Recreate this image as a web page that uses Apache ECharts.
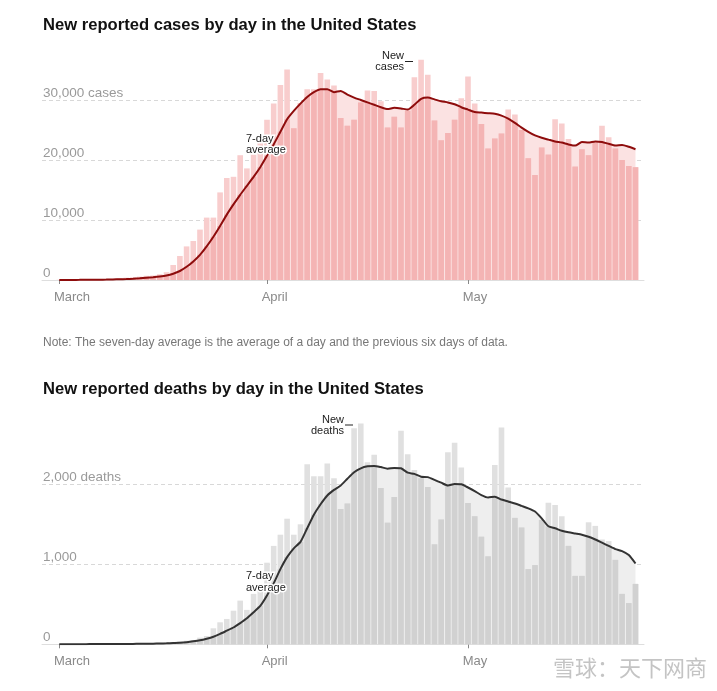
<!DOCTYPE html>
<html>
<head>
<meta charset="utf-8">
<script src="https://cdn.jsdelivr.net/npm/echarts@6/dist/echarts.min.js"></script>
<style>
html,body{margin:0;padding:0;background:#fff;}
#chart{width:717px;height:691px;}
</style>
</head>
<body>
<div id="chart"></div>
<script>
const dates = [
"3/1","3/2","3/3","3/4","3/5","3/6","3/7","3/8","3/9","3/10","3/11","3/12","3/13","3/14","3/15","3/16",
"3/17","3/18","3/19","3/20","3/21","3/22","3/23","3/24","3/25","3/26","3/27","3/28","3/29","3/30","3/31",
"4/1","4/2","4/3","4/4","4/5","4/6","4/7","4/8","4/9","4/10","4/11","4/12","4/13","4/14","4/15",
"4/16","4/17","4/18","4/19","4/20","4/21","4/22","4/23","4/24","4/25","4/26","4/27","4/28","4/29","4/30",
"5/1","5/2","5/3","5/4","5/5","5/6","5/7","5/8","5/9","5/10","5/11","5/12","5/13","5/14","5/15",
"5/16","5/17","5/18","5/19","5/20","5/21","5/22","5/23","5/24","5/25","5/26"];
const monthNames = {"3":"March","4":"April","5":"May"};

const cases = [
20,15,25,30,60,70,110,120,170,280,
380,450,560,700,750,950,1300,2500,4000,5600,
6500,8400,10400,10400,14600,17000,17200,20800,18600,20900,
23400,26700,29400,32500,35100,25300,29500,31800,31800,34500,
33400,32400,27000,25700,26700,29600,31600,31500,29800,25400,
27200,25400,28200,33800,36700,34200,26600,23300,24500,26700,
30300,33900,29400,26000,21900,23600,24400,28400,27600,25000,
20300,17500,22100,20900,26800,26100,23500,18900,21800,20800,
22900,25700,23800,21900,20000,19000,18800];

const casesAvg = [
15,18,20,22,30,40,55,70,90,120,
160,210,280,370,460,580,750,1050,1500,2200,
3100,4200,5600,7200,9000,10900,12600,14200,15700,17200,
18800,20700,22600,24700,26800,28200,29400,30500,31300,31800,
31800,31300,31500,30900,30400,30000,29600,29200,28800,28500,
28700,28600,28400,29200,30200,30400,30100,29800,29600,29300,
28800,28400,28000,27900,27800,27700,27400,26900,26200,25400,
24700,24100,23700,23400,23100,22900,22600,22400,23000,22900,
23100,23000,22700,22400,22500,22200,21800];

const deaths = [
1,5,1,2,3,2,3,2,4,5,
6,8,10,12,12,18,23,28,35,45,
54,83,104,200,275,317,420,546,430,630,
720,1020,1230,1370,1570,1370,1500,2250,2100,2100,
2260,2075,1690,1760,2700,2760,2275,2370,1955,1520,
1840,2670,2375,2180,2075,1965,1250,1560,2400,2520,
2210,1765,1600,1345,1100,2240,2710,1960,1580,1460,
940,990,1555,1770,1740,1600,1230,855,855,1525,
1480,1310,1290,1055,630,515,755];

const deathsAvg = [
1,2,2,2,2,3,3,3,3,4,
4,5,6,7,8,10,12,16,20,27,
37,50,70,95,130,170,210,265,325,400,
480,610,762,940,1090,1200,1280,1450,1620,1750,
1860,1930,1985,2070,2150,2200,2225,2230,2215,2195,
2205,2200,2145,2130,2095,2090,2055,2020,1985,2005,
2000,1960,1915,1865,1835,1845,1810,1785,1760,1730,
1700,1660,1575,1475,1450,1420,1400,1385,1370,1345,
1310,1270,1230,1190,1165,1115,1010];

const casesTicks = [0,10000,20000,30000];
const casesTickLabels = ["0","10,000","20,000","30,000 cases"];
const deathsTicks = [0,1000,2000];
const deathsTickLabels = ["0","1,000","2,000 deaths"];

const FONT = '"Liberation Sans", Arial, sans-serif';
const monthStarts = [];
dates.forEach((d,i)=>{ if (d.split('/')[1]==='1') monthStarts.push(i); });
const LABEL_SHIFT = 0.8;

function monthLabel(v){
  let best = 0, bd = 1e9;
  monthStarts.forEach(m=>{ const dd=Math.abs(m - LABEL_SHIFT - v); if(dd<bd){bd=dd;best=m;} });
  return monthNames[dates[best].split('/')[0]];
}

const X_MIN = -2.58, X_MAX = 87.27;
function xAxis(gi){
  return {
    type:'value', gridIndex:gi, min:X_MIN, max:X_MAX,
    axisLine:{show:true, lineStyle:{color:'#dedede', width:1}},
    axisTick:{show:true, customValues:monthStarts, length:4, lineStyle:{color:'#888'}},
    axisLabel:{customValues:monthStarts.map(m=>m-LABEL_SHIFT), formatter:monthLabel,
      align:'left', color:'#8a8a8a', fontSize:13, fontFamily:FONT, margin:11},
    splitLine:{show:false}
  };
}
function yAxis(gi, max, ticks, labels){
  return {
    type:'value', gridIndex:gi, min:0, max:max,
    axisLine:{show:false},
    axisTick:{show:false, customValues:ticks},
    axisLabel:{inside:true, customValues:ticks,
      formatter:(v)=>labels[ticks.indexOf(v)] ?? '',
      color:'#9a9a9a', fontSize:13.5, fontFamily:FONT, align:'left', verticalAlign:'bottom',
      margin:1, padding:[0,0,0,0]},
    splitLine:{show:true, lineStyle:{type:[4,3], color:'#d8d8d8', width:1}}
  };
}

const idx = dates.map((d,i)=>i);
function seriesFor(gi, vals, avg, c){
  return [
    {type:'line', xAxisIndex:gi, yAxisIndex:gi, data:idx.map(i=>[i,avg[i]]), symbol:'none',
     lineStyle:{width:0}, areaStyle:{color:c.area, opacity:1}, z:1, silent:true},
    {type:'bar', xAxisIndex:gi, yAxisIndex:gi, barWidth:5.6, barGap:'-100%',
     data:idx.map(i=>[i,vals[i]]), itemStyle:{color:c.over}, z:2},
    {type:'bar', xAxisIndex:gi, yAxisIndex:gi, barWidth:5.6, barGap:'-100%',
     data:idx.map(i=>[i,Math.min(vals[i],avg[i])]), itemStyle:{color:c.bar}, z:3},
    {type:'line', xAxisIndex:gi, yAxisIndex:gi, data:idx.map(i=>[i,avg[i]]), symbol:'none', smooth:0.2,
     lineStyle:{width:2, color:c.line}, z:4, silent:true}
  ];
}

const chart = echarts.init(document.getElementById('chart'), null, {renderer:'canvas'});
const txt = (t, x, y, opts) => Object.assign({type:'text', x:x, y:y, silent:true, z:100,
  style:Object.assign({text:t, fill:'#222', font:'11px '+FONT, align:'left', verticalAlign:'middle'}, opts||{})});
const halo = {stroke:'#fff', lineWidth:3};

chart.setOption({
  animation:false,
  backgroundColor:'#fff',
  title:[
    {text:'New reported cases by day in the United States', left:43, top:17, padding:0,
     textStyle:{fontSize:16.6, fontWeight:'bold', color:'#121212', fontFamily:FONT}},
    {text:'New reported deaths by day in the United States', left:43, top:381, padding:0,
     textStyle:{fontSize:16.6, fontWeight:'bold', color:'#121212', fontFamily:FONT}}
  ],
  grid:[
    {left:42, right:73, top:40, bottom:411},
    {left:42, right:73, top:404.3, bottom:46.7}
  ],
  xAxis:[xAxis(0), xAxis(1)],
  yAxis:[yAxis(0,40000,casesTicks,casesTickLabels), yAxis(1,3000,deathsTicks,deathsTickLabels)],
  series:[].concat(
    seriesFor(0, cases, casesAvg, {area:'#fbe2e2', bar:'#f4b4b4', over:'#f8cdcd', line:'#8e0c0c'}),
    seriesFor(1, deaths, deathsAvg, {area:'#eeeeee', bar:'#d1d1d1', over:'#e0e0e0', line:'#333333'})
  ),
  graphic:[
    txt('Note: The seven-day average is the average of a day and the previous six days of data.', 43, 343,
        {fill:'#777', font:'12px '+FONT}),
    txt('New', 404, 55.5, {align:'right'}),
    txt('cases', 404, 66.5, {align:'right'}),
    {type:'line', silent:true, z:100, shape:{x1:405, y1:61.5, x2:413, y2:61.5}, style:{stroke:'#222', lineWidth:1}},
    txt('7-day', 246, 138.5, halo),
    txt('average', 246, 150, halo),
    txt('New', 344, 419.5, {align:'right'}),
    txt('deaths', 344, 430.5, {align:'right'}),
    {type:'line', silent:true, z:100, shape:{x1:345, y1:425, x2:353, y2:425}, style:{stroke:'#222', lineWidth:1}},
    txt('7-day', 246, 576, halo),
    txt('average', 246, 587.5, halo),
    txt('雪球：天下网商', 553, 668, {fill:'#c4c4c4', font:'22px "Noto Sans CJK SC", sans-serif'})
  ]
});
</script>
</body>
</html>
